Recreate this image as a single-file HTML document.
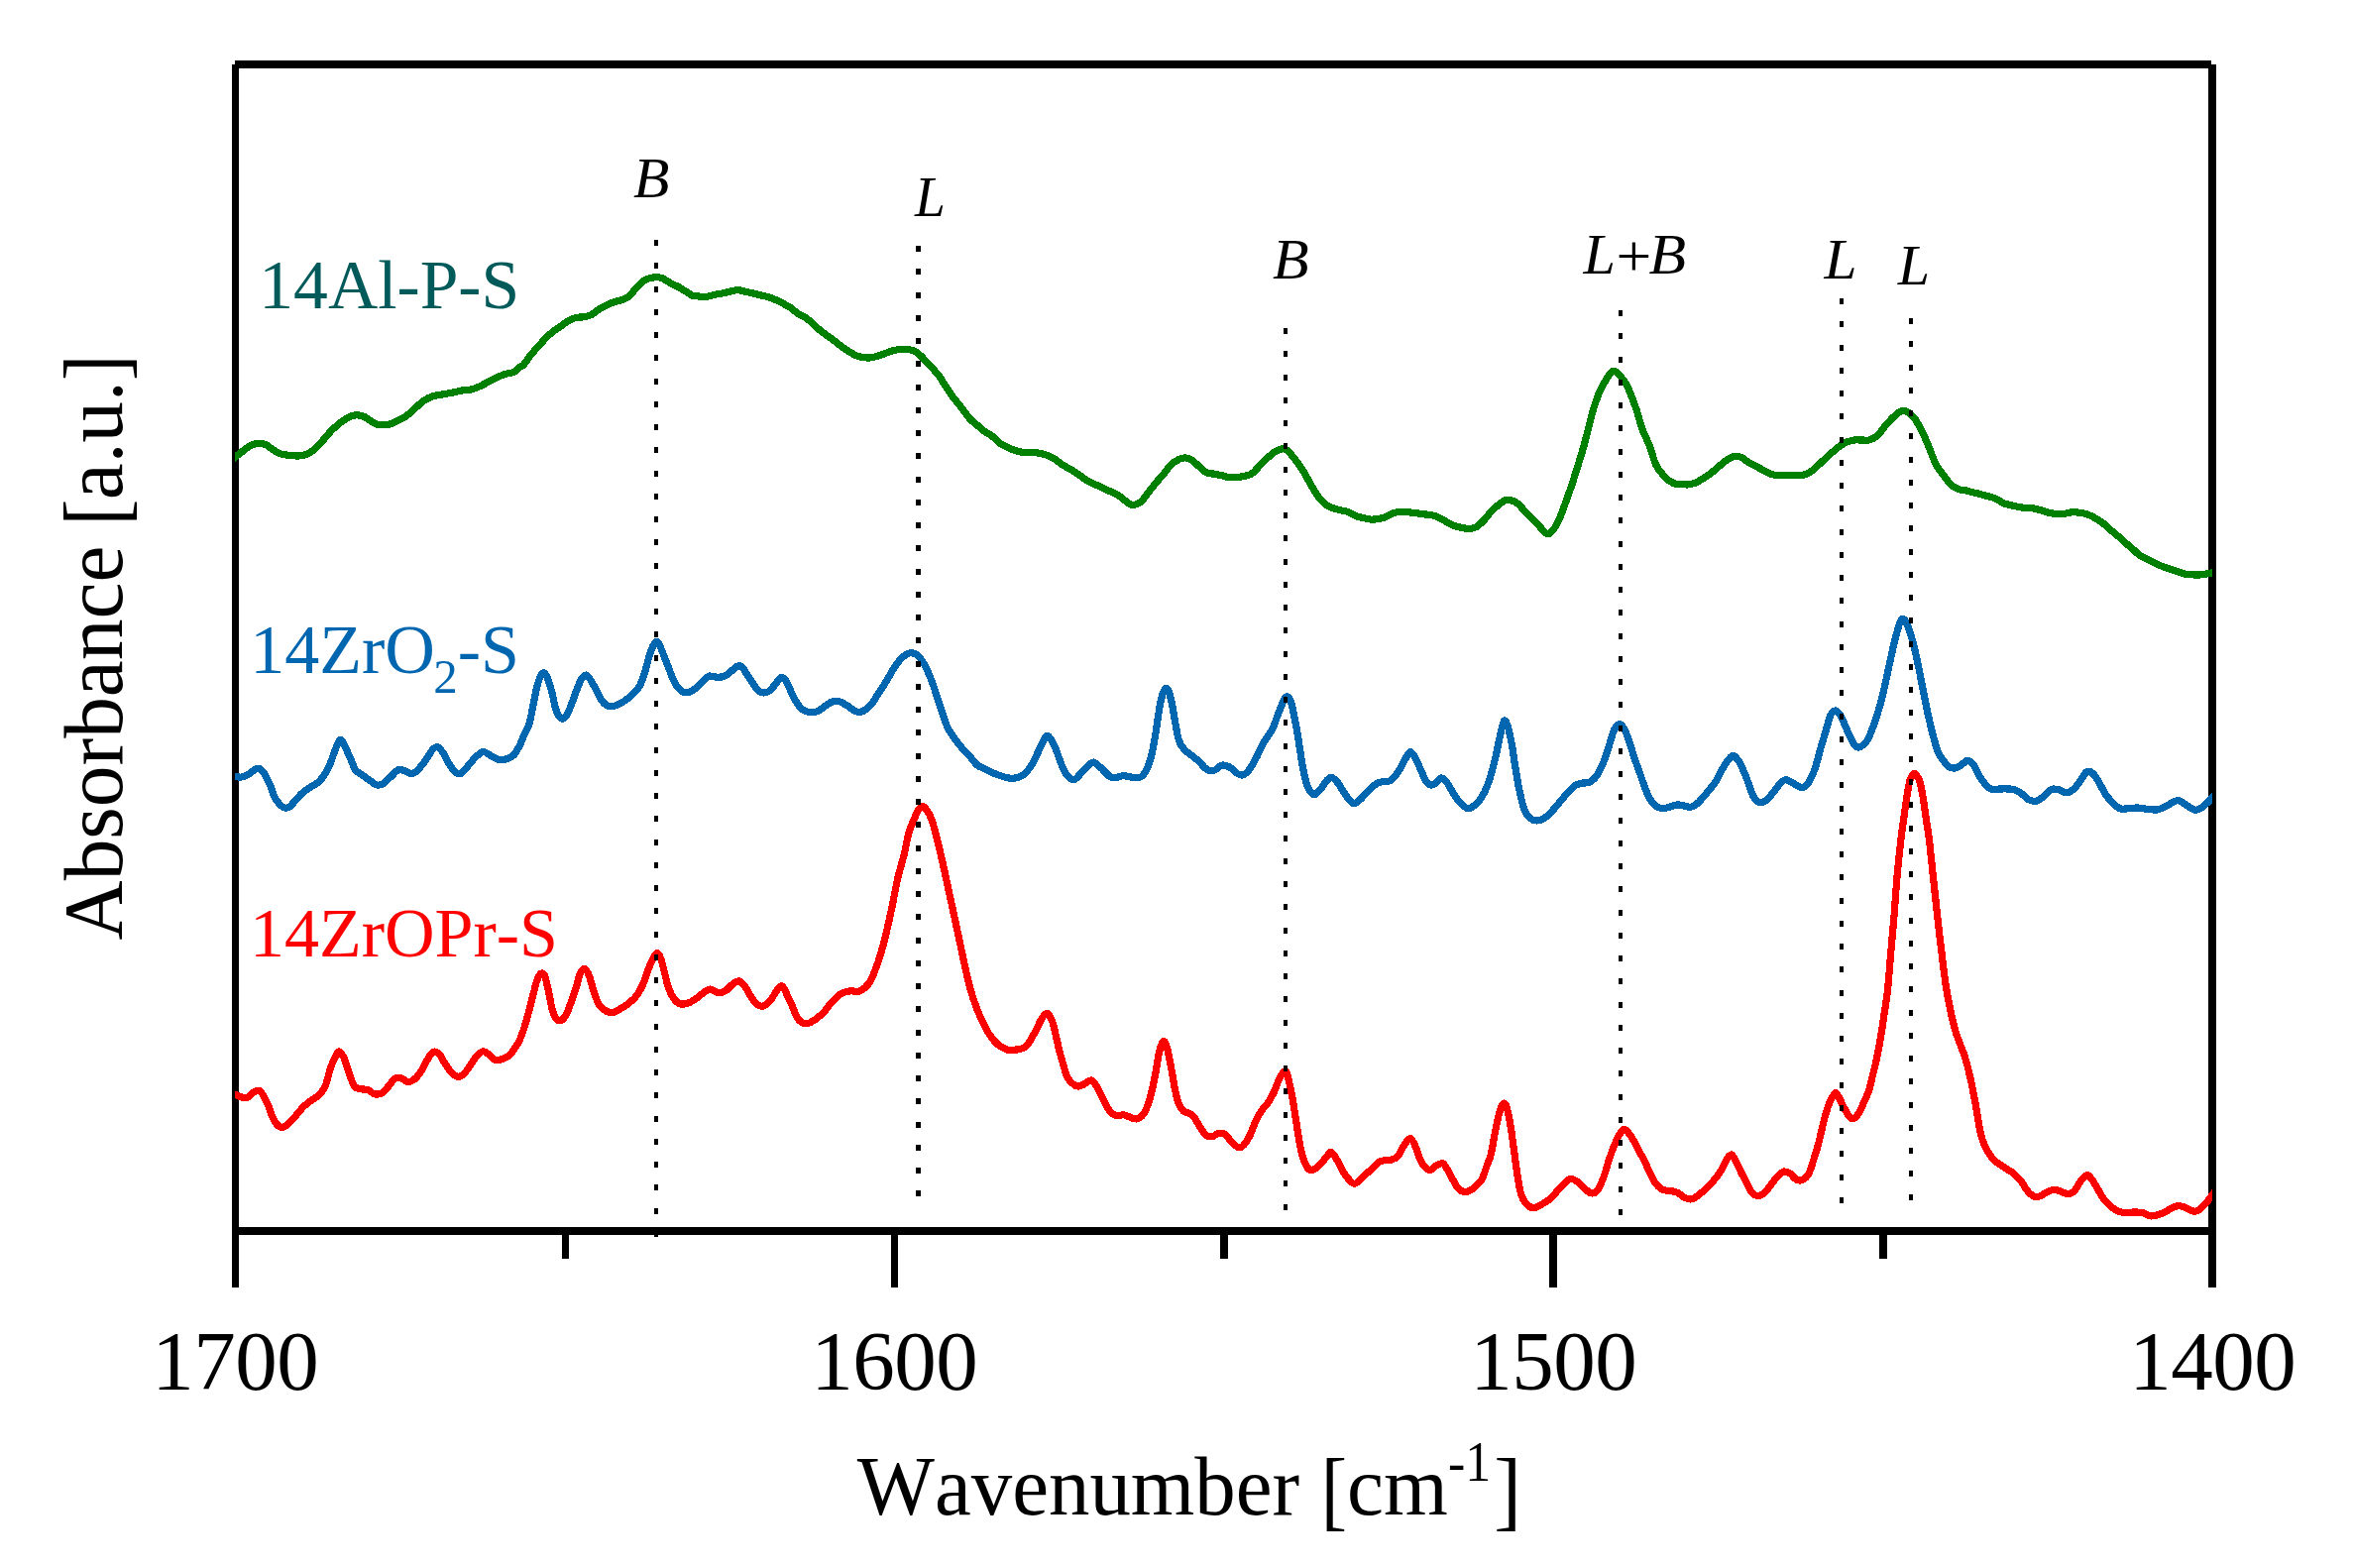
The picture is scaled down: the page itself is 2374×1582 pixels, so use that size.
<!DOCTYPE html>
<html><head><meta charset="utf-8"><title>Absorbance spectra</title>
<style>html,body{margin:0;padding:0;background:#fff;}svg{display:block;}</style>
</head><body>
<svg width="2374" height="1582" viewBox="0 0 2374 1582">
<rect width="2374" height="1582" fill="#fff"/>
<g fill="#000">
<rect x="237" y="61" width="1994" height="8"/>
<rect x="234" y="65" width="7" height="1234"/>
<rect x="2228" y="65" width="8" height="1234"/>
<rect x="234" y="1238" width="2002" height="8"/>
<rect x="567" y="1240" width="7" height="30"/>
<rect x="899" y="1240" width="7" height="59"/>
<rect x="1231" y="1240" width="8" height="30"/>
<rect x="1563" y="1240" width="8" height="59"/>
<rect x="1896" y="1240" width="8" height="30"/>
</g>
<defs><clipPath id="plotclip"><rect x="237" y="0" width="1995" height="1582"/></clipPath></defs>
<g fill="none" clip-path="url(#plotclip)" shape-rendering="crispEdges" stroke-width="7.2" stroke-linejoin="round" stroke-linecap="butt">
<path stroke="#008000" d="M231 466.2C232 465.4 235 462.9 237 461.4C239 459.8 240.8 458.5 242.8 456.9C244.8 455.3 246.9 453.4 249 452C251.1 450.6 253.3 449.2 255.5 448.4C257.7 447.6 259.9 447.3 262 447.3C264.1 447.3 265.9 447.7 268 448.6C270.1 449.6 272.4 451.6 274.6 453C276.8 454.4 278.9 456.2 281 457.2C283.1 458.2 285.3 458.4 287.4 458.8C289.5 459.2 291.5 459.3 293.8 459.5C296.1 459.7 298.9 460.2 301.4 460C303.9 459.8 306.4 459.4 309 458.4C311.6 457.3 314.1 455.8 316.7 453.7C319.3 451.6 321.8 448.8 324.4 446C326.9 443.2 329.4 439.8 332 437C334.6 434.2 337.1 431.7 339.7 429.5C342.2 427.3 345 425.3 347.3 423.8C349.6 422.2 351.6 421 353.7 420.2C355.8 419.4 357.9 418.8 360 418.8C362.1 418.8 364.4 419.2 366.5 420C368.6 420.8 370.8 422.4 372.9 423.8C375 425.1 376.9 426.9 379.2 427.8C381.5 428.7 384.3 428.9 386.9 428.9C389.4 428.9 391.9 428.4 394.5 427.6C397.1 426.8 399.8 425.2 402.2 424C404.6 422.8 406.5 422 408.6 420.6C410.7 419.2 412.9 417.3 415 415.5C417.1 413.7 419.2 411.6 421.3 409.7C423.4 407.8 425.1 405.8 427.7 404.2C430.2 402.6 433.4 400.9 436.6 399.8C439.8 398.8 443.4 398.5 446.8 397.9C450.2 397.3 453.8 396.6 457 396C460.2 395.4 462.8 394.5 466 394C469.2 393.5 473 393.6 476.2 392.8C479.4 392 482.3 390.6 485.1 389.3C487.9 388 490 386.6 492.8 385.1C495.6 383.7 498.7 381.9 501.7 380.6C504.7 379.3 507.8 378.1 510.6 377.2C513.4 376.3 516.2 376.5 518.3 375.5C520.4 374.5 521.8 372.2 523.4 371C525 369.8 525.7 370.6 527.7 368.5C529.7 366.4 532.8 361.6 535.3 358.4C537.8 355.2 540.5 352.4 543 349.5C545.5 346.6 548.1 343.8 550.6 341.2C553.1 338.6 555.8 336.2 558.3 334.2C560.8 332.2 563.3 330.8 565.9 329C568.5 327.2 571 325 573.6 323.6C576.2 322.2 578.7 321 581.2 320.4C583.8 319.8 586.4 320.3 588.9 319.8C591.4 319.3 594 318.9 596.5 317.6C599 316.3 601.7 313.7 604.2 312.1C606.8 310.5 609.2 309.2 611.8 308C614.3 306.8 617 305.7 619.5 304.8C622 303.9 624.6 303.6 627.1 302.6C629.6 301.6 632.2 300.8 634.8 298.7C637.3 296.6 639.8 292.8 642.4 290.2C645 287.6 647.5 284.5 650.1 282.8C652.7 281.1 655.7 280.7 657.8 280.2C659.9 279.7 661 279.4 662.9 279.6C664.8 279.8 666.9 280.1 669.2 281.2C671.5 282.3 674.4 284.6 676.9 286C679.4 287.4 682 288.1 684.5 289.5C687 290.9 689.9 292.9 692.2 294.3C694.6 295.7 696.3 297.3 698.6 298.1C700.9 298.9 703.7 298.9 706.2 299.1C708.8 299.3 711.4 299.4 713.9 299.1C716.4 298.8 719 297.7 721.5 297.2C724 296.7 726.7 296.4 729.2 295.9C731.8 295.4 734.2 294.5 736.8 294C739.3 293.5 742 292.6 744.5 292.7C747 292.8 749.6 293.8 752.1 294.3C754.6 294.8 757.2 295.3 759.8 295.9C762.3 296.5 764.8 297.2 767.4 297.8C770 298.4 772.5 298.9 775.1 299.7C777.7 300.5 780.2 301.5 782.8 302.6C785.3 303.7 787.9 305 790.4 306.4C792.9 307.8 795.5 309 798 310.8C800.5 312.6 803.5 315.5 805.7 317C808 318.5 809.5 318.6 811.5 319.8C813.5 321 815.4 322.4 817.7 324.3C820 326.2 822.8 329.3 825.3 331.5C827.8 333.7 830.5 335.7 833 337.6C835.5 339.5 838.1 341.1 840.6 343C843.1 344.9 845.8 347.2 848.3 349.1C850.8 351 853.3 352.6 855.9 354.2C858.5 355.8 861 357.6 863.6 358.7C866.2 359.8 868.7 360.2 871.2 360.6C873.8 361 876.4 361.1 878.9 360.8C881.4 360.5 884 359.7 886.5 358.9C889 358.1 891.7 357 894.2 356.1C896.8 355.2 899.2 354.2 901.8 353.6C904.3 353 907 352.5 909.5 352.3C912 352.1 914.6 352.1 917.1 352.6C919.6 353.1 922.2 353.9 924.8 355.5C927.3 357.1 929.8 359.9 932.4 362.5C935 365.1 937.5 367.9 940.1 370.8C942.7 373.7 945.2 376.2 947.8 379.7C950.3 383.2 952.8 388 955.4 391.8C958 395.6 960.5 399.3 963.1 402.7C965.7 406.1 968.2 408.9 970.7 412.2C973.2 415.5 975.9 419.6 978.4 422.4C980.9 425.2 983.5 426.9 986 429.1C988.5 431.3 991.2 433.6 993.7 435.5C996.2 437.4 998.8 438.3 1001.3 440.3C1003.8 442.3 1006.5 445.5 1009 447.3C1011.5 449.1 1014.1 450.2 1016.6 451.4C1019.1 452.6 1021.8 453.8 1024.3 454.6C1026.8 455.4 1029.4 456 1031.9 456.3C1034.5 456.6 1037 456.2 1039.6 456.3C1042.1 456.4 1044.7 456.7 1047.2 457.1C1049.8 457.5 1052.3 458 1054.9 458.8C1057.5 459.6 1060 460.7 1062.6 462.2C1065.1 463.7 1067.7 466 1070.2 467.7C1072.8 469.4 1075.4 470.9 1077.9 472.4C1080.5 473.9 1083 475.2 1085.5 476.9C1088 478.6 1090.7 480.7 1093.2 482.4C1095.8 484.1 1098.4 485.8 1100.8 487.1C1103.2 488.4 1105.3 488.9 1107.7 490C1110.1 491.1 1112.8 492.6 1115.3 493.8C1117.8 495 1120.5 495.7 1123 497C1125.5 498.3 1128 499.6 1130.6 501.4C1133.1 503.2 1136.2 506.2 1138.3 507.6C1140.4 509 1141.3 509.7 1143.4 509.5C1145.5 509.3 1148.5 508.4 1151 506.3C1153.5 504.2 1156.2 499.9 1158.7 496.7C1161.2 493.5 1163.8 490.2 1166.3 487.1C1168.8 484 1171.5 481.2 1174 478.2C1176.5 475.2 1179 471.3 1181.6 468.9C1184.1 466.4 1186.9 464.7 1189.3 463.5C1191.7 462.3 1193.6 461.8 1195.7 461.9C1197.8 461.9 1199.7 462.4 1202 463.8C1204.3 465.2 1207.2 468.4 1209.7 470.6C1212.2 472.8 1214.8 475.6 1217.3 476.9C1219.8 478.2 1222.4 477.7 1225 478.2C1227.6 478.7 1230.2 479.1 1232.7 479.7C1235.2 480.3 1237.8 481.4 1240.3 481.7C1242.8 482 1245.5 481.6 1248 481.4C1250.5 481.2 1253 481 1255.6 480.4C1258.1 479.8 1260.8 479.4 1263.3 477.6C1265.8 475.9 1268.4 472.4 1270.9 469.9C1273.5 467.3 1276 464.6 1278.6 462.3C1281.1 460 1283.7 457.5 1286.2 455.9C1288.8 454.3 1291.8 453 1293.9 452.8C1296 452.6 1296.9 452.8 1299 454.6C1301.1 456.4 1304 460.2 1306.6 463.5C1309.1 466.8 1311.8 470.3 1314.3 474.4C1316.8 478.4 1319.4 483.4 1321.9 487.8C1324.5 492.2 1327 497 1329.6 500.5C1332.1 504 1334.7 506.8 1337.2 508.8C1339.8 510.8 1342.3 511.7 1344.9 512.7C1347.5 513.7 1350 514.2 1352.6 514.8C1355.1 515.4 1357.7 515.5 1360.2 516.5C1362.8 517.5 1365.4 519.6 1367.9 520.6C1370.5 521.6 1373 521.9 1375.5 522.5C1378 523.1 1380.7 523.9 1383.2 524.1C1385.8 524.3 1388.4 523.9 1390.8 523.5C1393.2 523.1 1395.3 522.7 1397.7 521.8C1400.1 520.9 1402.8 518.8 1405.3 517.9C1407.8 517 1410.5 516.5 1413 516.3C1415.5 516.1 1418 516.6 1420.6 516.8C1423.1 517 1425.8 517.3 1428.3 517.6C1430.8 517.9 1433.4 518.5 1435.9 518.8C1438.5 519.1 1441 519 1443.6 519.5C1446.1 520 1448.7 520.9 1451.2 522C1453.8 523.1 1456.4 524.8 1458.9 526.2C1461.5 527.6 1464 529.3 1466.5 530.3C1469 531.3 1471.7 531.7 1474.2 532.2C1476.8 532.7 1479.2 533.6 1481.8 533.5C1484.3 533.4 1487 533 1489.5 531.6C1492 530.2 1494.5 527.6 1497.1 525C1499.6 522.4 1502.2 518.4 1504.8 515.7C1507.3 513 1509.9 510.9 1512.4 509C1514.9 507.1 1517 504.8 1520 504.5C1523 504.2 1526.8 505.1 1530.2 507.3C1533.6 509.6 1537 514.5 1540.4 518C1543.8 521.5 1547.3 524.6 1550.6 528C1553.9 531.4 1557.6 537 1560.3 538.2C1563 539.4 1564.3 537.7 1566.5 535.3C1568.7 532.9 1570.9 528.6 1573.2 523.6C1575.5 518.6 1577.9 511.6 1580.1 505.5C1582.3 499.4 1584.5 493.4 1586.5 487.3C1588.5 481.2 1590.3 475.2 1592.2 469.1C1594.1 463 1596 457 1597.7 450.9C1599.4 444.8 1600.9 438.8 1602.5 432.7C1604.1 426.6 1605.3 420.6 1607.1 414.5C1608.9 408.4 1611.3 401.4 1613.4 396.4C1615.5 391.3 1617.3 387.9 1619.8 384.2C1622.3 380.5 1625.2 374.2 1628.3 374.2C1631.4 374.2 1635.9 380.5 1638.6 384.2C1641.3 387.9 1642.6 391.3 1644.7 396.4C1646.8 401.4 1649.4 408.4 1651.4 414.5C1653.4 420.6 1654.6 426.6 1656.8 432.7C1659 438.8 1662.4 444.8 1664.7 450.9C1667 457 1668.3 464.1 1670.8 469.1C1673.3 474.2 1676.9 478.1 1679.8 481.2C1682.7 484.3 1685.7 486.3 1688.3 487.5C1690.9 488.7 1692.8 488.2 1695.3 488.4C1697.8 488.6 1700.5 489.1 1703 488.9C1705.5 488.7 1708 488.1 1710.6 487.1C1713.1 486.1 1715.8 484.3 1718.3 482.7C1720.8 481.1 1723.4 479.5 1725.9 477.6C1728.5 475.7 1731 473.3 1733.6 471.2C1736.1 469.1 1738.7 466.6 1741.2 464.8C1743.8 463 1746.4 461.2 1748.9 460.6C1751.5 460 1754 460.3 1756.5 461.3C1759 462.3 1761.7 465.1 1764.2 466.7C1766.8 468.2 1769.2 469.3 1771.8 470.6C1774.3 471.9 1777 473.3 1779.5 474.6C1782 475.9 1784.5 477.7 1787.1 478.5C1789.6 479.3 1792.2 479.3 1794.8 479.5C1797.3 479.7 1799.9 479.5 1802.4 479.5C1805 479.5 1807.5 479.5 1810.1 479.5C1812.7 479.5 1815.2 479.9 1817.8 479.5C1820.3 479.1 1822.9 478.4 1825.4 476.9C1828 475.4 1830.5 472.8 1833.1 470.6C1835.6 468.4 1838.2 465.9 1840.7 463.5C1843.2 461.1 1845.9 458.7 1848.4 456.5C1851 454.3 1853.5 452 1856 450.2C1858.5 448.4 1861.2 446.9 1863.7 445.9C1866.2 444.9 1868.8 444.3 1871.3 444C1873.8 443.7 1876.5 444 1879 444C1881.5 444 1884 444.6 1886.6 443.8C1889.1 443 1891.8 441.6 1894.3 439.3C1896.8 437 1899.4 433 1901.9 430C1904.5 427 1907 424 1909.6 421.5C1912.1 419 1915.1 416.3 1917.2 415.2C1919.3 414.1 1920.2 413.9 1922.3 414.7C1924.4 415.5 1927.4 417.3 1930 420.2C1932.6 423.1 1935.2 427.5 1937.7 432.3C1940.2 437.1 1942.8 442.9 1945.3 448.9C1947.8 454.8 1950.5 463 1953 468C1955.5 473 1958 475.5 1960.6 479C1963.1 482.5 1965.8 486.6 1968.3 489C1970.8 491.4 1973.1 492.5 1975.6 493.5C1978 494.5 1980.5 494.2 1983 494.8C1985.5 495.4 1988 496.2 1990.6 496.8C1993.1 497.4 1995.8 498 1998.3 498.7C2000.8 499.4 2003.4 500.1 2005.9 500.8C2008.5 501.5 2011 502 2013.6 503.1C2016.1 504.2 2018.7 506.5 2021.2 507.6C2023.8 508.7 2026.4 509.2 2028.9 509.8C2031.5 510.4 2034 510.9 2036.5 511.4C2039 511.9 2041.7 512.4 2044.2 512.7C2046.8 513 2049.2 512.6 2051.8 513C2054.4 513.4 2056.9 514.2 2059.5 514.9C2062.1 515.6 2064.5 516.8 2067.1 517.4C2069.7 518 2072.2 518.2 2074.8 518.4C2077.4 518.6 2079.9 518.7 2082.4 518.4C2084.9 518.1 2087.5 517 2090.1 516.8C2092.7 516.6 2095.2 516.9 2097.8 517.2C2100.4 517.5 2102.9 517.9 2105.4 518.7C2107.9 519.6 2110.6 520.9 2113.1 522.3C2115.6 523.7 2118.1 525.1 2120.7 527C2123.2 528.9 2125.8 531.6 2128.4 533.8C2131 536 2133.4 537.9 2136 540.1C2138.6 542.3 2141.1 544.9 2143.7 547.1C2146.2 549.3 2148.8 551.3 2151.3 553.5C2153.9 555.7 2156.4 558.7 2159 560.5C2161.6 562.3 2164 563.1 2166.6 564.4C2169.2 565.7 2171.8 567 2174.3 568.2C2176.9 569.4 2179.4 570.6 2181.9 571.6C2184.4 572.6 2187.1 573.4 2189.6 574.2C2192.1 575.1 2194.6 575.9 2197.2 576.7C2199.8 577.6 2202.3 578.8 2204.9 579.3C2207.5 579.8 2210.1 579.8 2212.6 579.9C2215.1 580 2217.6 580.1 2220.2 579.9C2222.8 579.7 2226 579.1 2227.9 578.7C2229.8 578.4 2230.2 578.2 2231.7 577.8C2233.2 577.4 2236.1 576.7 2237 576.5"/>
<path stroke="#0066b0" d="M231 782.3C232 782.4 235 782.8 237 783.1C239 783.4 240.8 784.2 242.8 784.1C244.8 784 247 783.2 249.1 782.2C251.2 781.2 253.6 779 255.5 777.8C257.4 776.6 258.9 775 260.6 775.2C262.3 775.4 264.2 777.2 265.7 779C267.2 780.8 268.2 783.5 269.5 786C270.8 788.5 272.1 791.2 273.4 794.3C274.7 797.4 275.7 801.6 277.2 804.5C278.7 807.4 280.6 809.9 282.3 811.6C284 813.4 285.7 814.6 287.4 815C289.1 815.4 290.6 815.1 292.5 813.7C294.4 812.3 296.6 809 298.9 806.5C301.2 804 303.9 800.9 306.5 798.8C309.1 796.7 311.6 795.4 314.2 793.7C316.8 792 319.5 790.8 321.8 788.6C324.1 786.4 326.3 783.4 328.2 780.3C330.1 777.2 331.6 774.1 333.3 770.1C335 766.1 336.7 760 338.4 756C340.1 752 341.8 746.5 343.5 746.3C345.2 746 346.9 751.3 348.6 754.5C350.3 757.7 352 761.8 353.7 765.6C355.4 769.4 356.9 774.4 358.8 777.1C360.7 779.8 362.9 779.9 365.2 781.6C367.5 783.3 370.3 785.6 372.9 787.3C375.4 789 378.2 791.5 380.5 792C382.8 792.5 384.6 791.9 386.9 790.5C389.2 789.1 391.9 785.8 394.5 783.5C397.1 781.2 399.8 777.4 402.2 776.5C404.6 775.6 406.5 777.3 408.6 778C410.7 778.7 412.9 780.8 415 780.6C417.1 780.5 419 779.3 421.3 777.1C423.6 774.9 426.4 771.1 429 767.6C431.6 764.1 434.5 758.4 436.6 756.1C438.7 753.8 440 753.3 441.7 753.8C443.4 754.3 444.9 756.5 446.8 759.3C448.7 762.1 451.1 767.4 453.2 770.7C455.3 774 457.7 777.4 459.6 779C461.5 780.6 462.6 781.6 464.7 780.6C466.8 779.6 469.8 775.5 472.3 772.7C474.9 769.9 477.4 766.1 480 763.7C482.6 761.4 485.1 758.8 487.7 758.6C490.2 758.4 492.8 761.1 495.3 762.4C497.9 763.7 500.4 765.9 503 766.5C505.6 767.1 508.1 766.7 510.6 765.9C513.1 765.1 516 764.2 518.3 761.8C520.6 759.4 522.8 755.1 524.6 751.6C526.4 748.1 527.5 744.3 529.1 740.8C530.7 737.2 532.5 735.1 534 730.3C535.5 725.5 536.6 718 537.9 711.8C539.2 705.6 540.4 698.3 541.7 693.3C543 688.3 544.2 684.3 545.5 681.9C546.8 679.5 548 678.2 549.3 678.9C550.6 679.6 551.9 682.9 553.2 686.3C554.5 689.7 555.7 694.2 557 699.1C558.3 704 559.3 711.5 560.8 715.7C562.3 720 564.2 723.4 565.9 724.6C567.6 725.8 569.3 724.8 571 722.7C572.7 720.6 574.4 715.9 576.1 711.8C577.8 707.6 579.5 702.1 581.2 697.8C582.9 693.4 584.6 688.5 586.3 685.7C588 682.9 589.7 680.9 591.4 681.1C593.1 681.3 594.8 684.4 596.5 687C598.2 689.6 599.9 693.3 601.6 696.5C603.3 699.7 605 703.6 606.7 706.1C608.4 708.6 610.1 710.4 611.8 711.5C613.5 712.6 615.2 712.7 616.9 712.7C618.6 712.7 619.9 712.4 622 711.5C624.1 710.6 627.2 709 629.7 707.4C632.2 705.8 634.8 704 637.3 701.6C639.8 699.2 642.9 696.3 645 692.7C647.1 689.1 648.4 685.2 650.1 680C651.8 674.8 653.7 666.2 655.2 661.5C656.7 656.8 657.7 653.9 659 651.5C660.3 649.1 661.6 647 662.9 647.4C664.2 647.8 665.4 651.1 666.7 653.8C668 656.5 669.2 660.2 670.5 663.4C671.8 666.6 673 669.6 674.3 672.9C675.6 676.2 676.7 679.8 678.2 683.1C679.7 686.4 681.4 690.2 683.3 692.7C685.2 695.2 687.5 697.5 689.6 698.4C691.7 699.3 693.9 698.8 696 698.1C698.1 697.4 700.3 695.8 702.4 694C704.5 692.2 706.7 689.6 708.8 687.6C710.9 685.6 712.9 683 715.2 682.2C717.5 681.5 720.2 683.1 722.8 683.1C725.3 683.1 728.2 683.4 730.5 682.5C732.8 681.6 734.7 679.6 736.8 678C738.9 676.4 741.3 673.5 743.2 672.6C745.1 671.7 746.6 671.4 748.3 672.6C750 673.8 751.7 677.5 753.4 680C755.1 682.5 756.8 685.1 758.5 687.6C760.2 690.1 761.9 693.4 763.6 695.3C765.3 697.1 766.8 698.3 768.7 698.7C770.6 699.1 773 699 775.1 697.8C777.2 696.6 779.4 693.7 781.5 691.4C783.6 689.1 786 684.5 787.9 683.8C789.8 683.1 791.3 684.7 793 687C794.7 689.3 796.4 694.3 798.1 697.8C799.8 701.3 801.3 705 803.2 708C805.1 711 807.1 713.9 809.5 715.7C811.9 717.5 815.1 718.4 817.7 718.7C820.3 719 822.8 718.5 825.3 717.4C827.8 716.3 830.5 713.7 833 712.1C835.5 710.5 838.1 708.2 840.6 707.6C843.1 707 845.8 707.4 848.3 708.2C850.8 709.1 853.3 711.1 855.9 712.7C858.5 714.3 861 717 863.6 717.8C866.2 718.5 868.7 718.4 871.2 717.2C873.8 716 876.4 713.8 878.9 710.8C881.4 707.8 884 703.2 886.5 699.3C889 695.4 891.7 691.4 894.2 687.2C896.8 683.1 899.2 678.2 901.8 674.4C904.3 670.6 907 666.8 909.5 664.2C912 661.7 914.6 659.7 917.1 659.1C919.6 658.5 922.2 658.6 924.8 660.4C927.3 662.2 929.8 665.5 932.4 670C935 674.5 937.5 680.5 940.1 687.2C942.7 693.9 945.2 702.7 947.8 710.2C950.3 717.8 952.8 726.7 955.4 732.5C958 738.3 960.5 741.5 963.1 745.2C965.7 748.9 968.2 751.8 970.7 754.8C973.2 757.8 975.9 760.2 978.4 763.1C980.9 766 983.5 769.9 986 772C988.5 774.1 991.2 774.5 993.7 775.8C996.2 777.1 998.8 778.6 1001.3 779.7C1003.8 780.8 1006.5 781.6 1009 782.5C1011.5 783.4 1014.1 784.4 1016.6 784.8C1019.1 785.2 1021.8 785.4 1024.3 785C1026.8 784.6 1029.4 784.1 1031.9 782.2C1034.5 780.4 1037.5 776.9 1039.6 773.9C1041.7 770.9 1043 767.8 1044.7 764.4C1046.4 761 1048.1 757 1049.8 753.5C1051.5 750 1053.6 745.3 1054.9 743.5C1056.2 741.7 1056.7 742.2 1057.5 742.5C1058.3 742.8 1058.7 743.4 1060 745.5C1061.3 747.6 1063.4 751.4 1065.1 755.4C1066.8 759.4 1068.5 765.4 1070.2 769.5C1071.9 773.6 1073.2 777.4 1075.3 780.3C1077.4 783.2 1080.5 786.7 1083 786.7C1085.5 786.7 1088 782.8 1090.6 780.3C1093.1 777.8 1096.2 773.9 1098.3 772C1100.4 770.1 1101.4 768.7 1103.4 769.1C1105.4 769.5 1108.2 772.5 1110.2 774.2C1112.2 775.9 1113.6 777.7 1115.3 779.3C1117 780.9 1118.7 783.1 1120.4 784C1122.1 784.9 1123.4 784.8 1125.5 784.6C1127.6 784.4 1130.7 782.8 1133.2 782.7C1135.8 782.6 1138.2 783.7 1140.8 784C1143.3 784.3 1146.4 785 1148.5 784.6C1150.6 784.2 1151.9 783.9 1153.6 781.8C1155.3 779.7 1157.2 776 1158.7 772.2C1160.2 768.4 1161.2 764.6 1162.5 758.9C1163.8 753.2 1165 745.6 1166.3 737.8C1167.6 730 1168.9 719 1170.2 712.3C1171.5 705.6 1172.7 700.4 1174 697.5C1175.3 694.6 1176.5 693.6 1177.8 695C1179.1 696.4 1180.3 700.6 1181.6 706C1182.9 711.4 1184.2 720.8 1185.5 727.6C1186.8 734.4 1187.8 742 1189.3 746.7C1190.8 751.4 1192.3 753.2 1194.4 755.7C1196.5 758.2 1199.5 759.9 1202 762C1204.5 764.1 1207.2 766 1209.7 768.4C1212.2 770.8 1214.8 774.6 1217.3 776.1C1219.8 777.6 1222.4 777.9 1225 777.3C1227.6 776.6 1230.2 772.8 1232.7 772.2C1235.2 771.6 1237.8 772.5 1240.3 773.8C1242.8 775.1 1245.9 778.8 1248 780.2C1250.1 781.6 1251.4 782.2 1253.1 782.1C1254.8 782 1256.5 780.9 1258.2 779.3C1259.9 777.6 1261.6 775 1263.3 772.2C1265 769.4 1266.7 766.1 1268.4 762.7C1270.1 759.3 1271.8 755 1273.5 751.8C1275.2 748.6 1276.9 746.1 1278.6 743.5C1280.3 740.9 1282 739.4 1283.7 735.9C1285.4 732.4 1287.1 726.9 1288.8 722.5C1290.5 718.1 1292.6 712.5 1293.9 709.4C1295.2 706.3 1296 704.9 1296.8 703.8C1297.6 702.7 1298.2 702.7 1299 703C1299.8 703.3 1300.7 703.6 1301.5 705.5C1302.3 707.4 1302.8 708.6 1304.1 714.5C1305.4 720.4 1307.5 731.2 1309.2 741C1310.9 750.8 1312.6 764.7 1314.3 773.5C1316 782.3 1317.5 789.2 1319.4 793.9C1321.3 798.6 1323.7 801.2 1325.8 801.6C1327.9 802 1330 798.8 1332.1 796.5C1334.2 794.2 1336.6 789.6 1338.5 787.6C1340.4 785.6 1341.7 784 1343.6 784.4C1345.5 784.8 1347.9 787.5 1350 790.1C1352.1 792.8 1354.3 797.2 1356.4 800.3C1358.5 803.4 1361.1 806.9 1362.8 808.6C1364.5 810.3 1364.9 810.9 1366.6 810.5C1368.3 810.1 1370.7 808.1 1373 806C1375.3 803.9 1378 800.3 1380.6 797.8C1383.1 795.3 1385.8 792.6 1388.3 791C1390.8 789.4 1393.5 789 1395.9 788.4C1398.3 787.8 1400.8 788.6 1402.8 787.6C1404.8 786.6 1406.2 784.5 1407.9 782.4C1409.6 780.3 1411.3 777.7 1413 774.8C1414.7 771.9 1416.4 767.9 1418.1 765.2C1419.8 762.5 1421.5 758.7 1423.2 758.7C1424.9 758.7 1426.6 762.2 1428.3 765.2C1430 768.2 1431.7 773 1433.4 776.7C1435.1 780.4 1436.8 785.1 1438.5 787.6C1440.2 790.1 1441.9 791.6 1443.6 792C1445.3 792.4 1447 791.3 1448.7 790.1C1450.4 788.9 1452.1 785.3 1453.8 785C1455.5 784.7 1457.2 786.3 1458.9 788.2C1460.6 790.1 1462.3 793.7 1464 796.5C1465.7 799.3 1467.4 802.5 1469.1 804.8C1470.8 807.1 1472.3 808.7 1474.2 810.5C1476.1 812.3 1478.5 815.2 1480.6 815.6C1482.7 816 1484.8 814.6 1486.9 813.1C1489 811.6 1491.4 809.2 1493.3 806.7C1495.2 804.2 1496.7 801.5 1498.4 797.8C1500.1 794.1 1501.8 789.8 1503.5 784.4C1505.2 779 1506.9 772.4 1508.6 765.2C1510.3 758.1 1512.2 747.8 1513.7 741.5C1515.2 735.2 1516.3 728.5 1517.6 727.2C1518.9 725.9 1520.1 729.6 1521.4 733.5C1522.7 737.4 1523.9 743.7 1525.2 750.6C1526.5 757.5 1527.7 767 1529 774.8C1530.3 782.5 1531.4 790.1 1532.9 797.1C1534.4 804.1 1536.1 812.1 1538 816.9C1539.9 821.7 1542.2 823.9 1544.3 825.8C1546.4 827.6 1548.3 828.1 1550.7 828C1553.1 827.9 1555.9 826.8 1558.4 825.2C1561 823.6 1563.5 820.9 1566 818.2C1568.5 815.5 1571.2 812.2 1573.7 809.2C1576.2 806.2 1578.8 803 1581.3 800.3C1583.8 797.5 1586.5 794.4 1589 792.7C1591.5 791 1594 790.7 1596.6 790.1C1599.1 789.5 1601.8 790.6 1604.3 789.1C1606.8 787.6 1609.6 784.8 1611.9 781.2C1614.2 777.7 1616.4 772.6 1618.3 767.8C1620.2 763 1621.7 757.7 1623.4 752.5C1625.1 747.3 1626.8 740.1 1628.5 736.5C1630.2 732.9 1631.9 731 1633.6 730.8C1635.3 730.6 1637 732.4 1638.7 735.3C1640.4 738.2 1642.1 743.1 1643.8 748C1645.5 752.9 1647.2 759.5 1648.9 764.6C1650.6 769.7 1652.3 773.8 1654 778.6C1655.7 783.4 1657.4 788.8 1659.1 793.3C1660.8 797.8 1662.3 802.1 1664.2 805.4C1666.1 808.7 1668.2 811.4 1670.6 813.1C1672.9 814.8 1675.8 815.5 1678.3 815.6C1680.8 815.7 1683.5 814.3 1685.9 813.7C1688.3 813.1 1690.6 812 1692.8 811.9C1695 811.8 1697 812.6 1699.1 813C1701.2 813.4 1703.4 814.6 1705.5 814.3C1707.6 814 1709.8 812.8 1711.9 811.1C1714 809.5 1716.2 806.8 1718.3 804.4C1720.4 802 1722.5 799.4 1724.6 796.8C1726.7 794.2 1728.9 792.1 1731 788.8C1733.1 785.4 1735.3 780.4 1737.4 776.7C1739.5 773 1741.9 768.9 1743.8 766.5C1745.7 764.1 1747.3 762.4 1748.9 762.4C1750.5 762.4 1752 765.2 1753.3 766.8C1754.6 768.4 1754.9 768.5 1756.5 771.9C1758.1 775.3 1760.8 781.8 1762.9 787.2C1765 792.6 1767.2 800.3 1769.3 804.1C1771.4 807.9 1773.6 809.3 1775.7 809.8C1777.8 810.3 1779.9 808.9 1782 807.3C1784.1 805.7 1786.3 802.8 1788.4 800.3C1790.5 797.8 1792.7 794.3 1794.8 792C1796.9 789.7 1799.1 787.1 1801.2 786.7C1803.3 786.3 1805.5 788.4 1807.6 789.4C1809.7 790.4 1812.1 792 1813.9 792.9C1815.7 793.8 1816.8 795.1 1818.4 794.8C1820 794.5 1821.9 793.2 1823.5 791.3C1825.1 789.4 1826.6 786.5 1828 783.5C1829.4 780.5 1830.3 778.2 1831.8 773.5C1833.3 768.8 1835.2 761 1836.9 755C1838.6 749 1840.3 743.4 1842 737.8C1843.7 732.2 1845.4 724.7 1847.1 721.2C1848.8 717.7 1850.5 716.8 1852.2 717C1853.9 717.2 1855.6 719.6 1857.3 722.4C1859 725.2 1860.7 730.1 1862.4 733.9C1864.1 737.7 1865.8 742.2 1867.5 745.4C1869.2 748.6 1870.9 751.8 1872.6 753.1C1874.3 754.4 1875.8 754.2 1877.7 753.1C1879.6 752 1882 750.3 1884.1 746.7C1886.2 743.1 1888.4 737.2 1890.5 731.4C1892.6 725.5 1894.9 718.4 1896.8 711.6C1898.7 704.8 1900.2 698 1901.9 690.6C1903.6 683.2 1905.3 674.7 1907 667C1908.7 659.3 1910.4 651.2 1912.1 644.6C1913.8 638 1915.7 630.7 1917.2 627.4C1918.7 624.1 1919.8 624.1 1921.1 624.9C1922.4 625.6 1923.4 628.1 1924.9 631.9C1926.4 635.7 1928.3 641.4 1930 647.8C1931.7 654.2 1933.4 662.2 1935.1 670.2C1936.8 678.2 1938.5 687.2 1940.2 695.7C1941.9 704.2 1943.6 713.5 1945.3 721.2C1947 729 1948.7 735.8 1950.4 742.2C1952.1 748.6 1953.8 755.3 1955.5 759.4C1957.2 763.5 1958.8 764.6 1960.6 767C1962.3 769.4 1964.1 772.2 1966 773.5C1967.9 774.8 1969.9 775.2 1972 775C1974.1 774.8 1976.2 773.3 1978.5 772C1980.8 770.7 1983.3 767.1 1985.5 767.2C1987.7 767.4 1990 770.2 1991.9 772.9C1993.8 775.5 1995.3 780.2 1997 783.1C1998.7 786 2000.2 788 2002.1 790.1C2004 792.2 2006.1 794.9 2008.4 795.9C2010.7 796.9 2013.5 796.1 2016.1 796.1C2018.6 796.1 2021.2 795.8 2023.7 795.9C2026.2 796 2028.9 795.8 2031.4 796.5C2034 797.2 2036.5 798.6 2039 800.3C2041.5 802 2044.1 805.4 2046.7 806.7C2049.3 808 2051.8 808.7 2054.4 808.2C2057 807.7 2059.4 805.5 2062 803.5C2064.6 801.5 2067.1 797.6 2069.7 796.5C2072.2 795.4 2074.8 796.3 2077.3 796.8C2079.9 797.3 2082.4 799.9 2085 799.7C2087.6 799.6 2090.3 797.9 2092.6 795.9C2094.9 793.9 2096.9 790.5 2099 787.6C2101.1 784.7 2103.3 779.9 2105.4 778.7C2107.5 777.5 2109.6 778.7 2111.7 780.6C2113.8 782.5 2116 786.6 2118.1 790.1C2120.2 793.6 2122.4 798.4 2124.5 801.6C2126.6 804.8 2128.6 806.9 2130.9 809.2C2133.2 811.5 2135.9 814.5 2138.5 815.6C2141.1 816.7 2143.2 816 2146.2 815.9C2149.2 815.8 2152.9 814.9 2156.3 815C2159.7 815.1 2163.1 816 2166.5 816.3C2169.9 816.6 2173.4 817.5 2176.8 816.9C2180.2 816.2 2183.6 813.9 2187 812.4C2190.4 810.9 2194 807.6 2197.2 807.6C2200.4 807.6 2203.1 810.8 2206.1 812.4C2209.1 814 2212.2 817 2215 817.2C2217.8 817.4 2219.9 815.7 2222.7 813.7C2225.5 811.7 2229.2 807.7 2231.6 805.4C2234 803.1 2236.1 800.9 2237 800"/>
<path stroke="#ff0000" d="M231 1101.8C232 1102.2 235 1103.4 237 1104.2C239 1105 240.8 1106.1 242.8 1106.7C244.8 1107.3 247 1108.3 249.1 1107.6C251.2 1106.8 253.4 1103.4 255.5 1102.2C257.6 1101 260 1099.3 261.9 1100.3C263.8 1101.3 265.5 1105.5 267 1108C268.5 1110.5 269.5 1112.5 270.8 1115.6C272.1 1118.7 273.1 1123.3 274.6 1126.5C276.1 1129.7 278 1133 279.7 1134.8C281.4 1136.6 282.9 1137.5 284.8 1137.3C286.7 1137.1 288.9 1135.5 291.2 1133.5C293.5 1131.5 296.3 1128.1 298.9 1125.2C301.4 1122.3 303.9 1118.8 306.5 1116.3C309.1 1113.8 311.6 1112 314.2 1110.1C316.8 1108.2 319.5 1107.2 321.8 1104.8C324.1 1102.4 326.3 1100.4 328.2 1095.9C330.1 1091.4 331.6 1083 333.3 1078C335 1073 336.9 1068.8 338.4 1066C339.9 1063.2 340.7 1060.7 342.2 1061C343.7 1061.3 345.6 1064.3 347.3 1068C349 1071.7 350.7 1078.4 352.4 1083.1C354.1 1087.8 355.6 1093.3 357.5 1095.9C359.4 1098.5 361.6 1098.1 363.9 1098.7C366.2 1099.3 369.2 1098.9 371.5 1099.7C373.8 1100.5 375.5 1103.3 377.9 1103.8C380.2 1104.3 383.2 1104.2 385.6 1102.9C388 1101.6 389.9 1098.3 392 1095.9C394.1 1093.5 396.2 1089.9 398.3 1088.5C400.4 1087.1 402.6 1087.1 404.7 1087.6C406.8 1088.1 409 1091.1 411.1 1091.4C413.2 1091.7 415.3 1091 417.4 1089.5C419.5 1088 421.7 1085.6 423.8 1082.5C425.9 1079.4 428.1 1074.5 430.2 1071C432.3 1067.5 434.5 1063 436.6 1061.7C438.7 1060.4 440.8 1061.4 442.9 1063.4C445 1065.4 447.2 1070.4 449.3 1073.6C451.4 1076.8 453.6 1080.4 455.7 1082.5C457.8 1084.6 460 1086.2 462.1 1086.3C464.2 1086.4 466.3 1085.1 468.4 1083.1C470.5 1081.1 472.7 1077.2 474.8 1074.2C476.9 1071.2 479.1 1067.5 481.2 1065.3C483.3 1063.1 485.5 1060.9 487.6 1060.8C489.7 1060.7 491.9 1063.1 494 1064.6C496.1 1066.1 498.2 1069 500.3 1069.7C502.4 1070.4 504.6 1069.2 506.7 1068.5C508.8 1067.8 511 1067.1 513.1 1065.3C515.2 1063.5 517.5 1060.4 519.4 1057.6C521.3 1054.8 522.9 1052.2 524.5 1048.7C526.1 1045.2 527.4 1041.5 529 1036.6C530.6 1031.6 532.5 1024.5 534 1019C535.5 1013.5 536.6 1008.7 537.9 1003.8C539.2 998.9 540.4 993 541.7 989.5C543 986 544.2 983.4 545.5 982.5C546.8 981.6 548 981.2 549.3 984C550.6 986.8 551.9 993.4 553.2 999C554.5 1004.6 555.7 1013.1 557 1017.8C558.3 1022.5 559.3 1025.3 560.8 1027.3C562.3 1029.2 564.2 1030 565.9 1029.5C567.6 1029 569.3 1027.1 571 1024.1C572.7 1021.1 574.4 1016 576.1 1011.4C577.8 1006.8 579.7 1001.4 581.2 996.7C582.7 992 583.6 986.2 585 983C586.4 979.8 588 977.4 589.5 977.5C591 977.6 592.4 979.8 594 983.5C595.6 987.2 597.3 994.9 599 999.9C600.7 1004.9 602.1 1009.9 604.2 1013.3C606.3 1016.7 609.2 1019 611.8 1020.3C614.3 1021.6 617 1021.7 619.5 1021.2C622 1020.7 624.6 1018.6 627.1 1017.1C629.6 1015.6 632.2 1014.1 634.8 1012C637.3 1009.9 640.1 1007.6 642.4 1004.4C644.7 1001.2 646.9 997.2 648.8 992.9C650.7 988.5 652.2 982.6 653.9 978.3C655.6 973.9 657.5 969.6 659 966.8C660.5 964 661.5 961.7 662.8 961.7C664.1 961.7 665.3 963.5 666.6 966.8C667.9 970.1 669.2 976.5 670.5 981.4C671.8 986.3 672.8 991.9 674.3 996.1C675.8 1000.4 677.5 1004.1 679.4 1006.9C681.3 1009.7 683.5 1011.8 685.8 1012.7C688.1 1013.6 690.8 1013 693.4 1012.3C696 1011.6 698.5 1010.1 701.1 1008.5C703.7 1006.9 706.2 1004.2 708.7 1002.5C711.2 1000.8 713.9 998.2 716.4 998C718.9 997.8 721.5 1001.2 724 1001.5C726.5 1001.8 729.2 1001.3 731.7 999.9C734.2 998.5 737 994.5 739.3 992.9C741.6 991.2 743.6 989.5 745.7 990C747.8 990.5 750 993.3 752.1 996.1C754.2 998.9 756.3 1003.9 758.4 1006.9C760.5 1009.9 762.7 1012.7 764.8 1014C766.9 1015.3 769.1 1015.5 771.2 1014.6C773.3 1013.8 775.5 1011.5 777.6 1008.9C779.7 1006.3 782 1001.6 783.9 999.3C785.8 996.9 787.3 994 789 994.8C790.7 995.5 792.4 1000.5 794.1 1003.8C795.8 1007.1 797.5 1010.8 799.2 1014.6C800.9 1018.4 802.4 1023.7 804.3 1026.7C806.2 1029.7 808.6 1031.6 810.7 1032.4C812.8 1033.2 814 1033.3 817.1 1031.8C820.2 1030.3 825.5 1026.7 829.1 1023.4C832.7 1020.1 835.5 1015.3 838.7 1011.9C841.9 1008.5 845.1 1004.8 848.3 1002.8C851.5 1000.8 854.6 1000.4 857.8 999.9C861 999.4 864.2 1001.2 867.4 999.9C870.6 998.5 874.5 995.2 877 991.8C879.5 988.4 880.8 984.2 882.7 979.4C884.6 974.6 886.5 969.5 888.4 963.1C890.3 956.7 892.3 949.1 894.2 941.1C896.1 933.1 898 924.4 899.9 915.3C901.8 906.2 903.6 895.7 905.7 886.6C907.8 877.5 910.6 868.5 912.5 860.8C914.4 853.1 915.2 846.2 916.8 840.5C918.4 834.8 920.5 830.6 922.1 826.8C923.7 823 925.1 819.7 926.5 817.5C927.9 815.3 929.1 813.7 930.4 813.5C931.7 813.3 932.9 814.3 934.5 816.5C936.1 818.7 938.3 822.1 940 826.8C941.7 831.5 943.2 837.9 944.9 844.6C946.6 851.3 948.2 857.9 950.3 867C952.4 876.1 955.2 889.3 957.3 899.1C959.4 908.9 961.2 916.9 963.1 925.8C965 934.7 966.9 943.7 968.8 952.6C970.7 961.5 972.6 971.1 974.5 979.4C976.4 987.7 978.4 995.9 980.3 1002.4C982.2 1008.9 984.1 1013.7 986 1018.6C987.9 1023.5 989.9 1028 991.8 1032C993.7 1036 995.6 1039.5 997.5 1042.5C999.4 1045.5 1001.3 1048 1003.2 1050.2C1005.1 1052.4 1006.8 1054 1009 1055.5C1011.2 1057 1014.3 1058.5 1016.6 1059.1C1018.9 1059.7 1020.9 1059.3 1023 1059.2C1025.1 1059.1 1027.2 1059.1 1029.3 1058.4C1031.4 1057.8 1033.8 1057.1 1035.7 1055.3C1037.6 1053.5 1039.1 1050.5 1040.8 1047.6C1042.5 1044.7 1044.2 1041.3 1045.9 1038C1047.6 1034.7 1049.3 1030.4 1051 1027.8C1052.7 1025.2 1054.4 1022.1 1056.1 1022.3C1057.8 1022.5 1059.7 1025.5 1061.2 1029.1C1062.7 1032.7 1063.8 1038.6 1065.1 1043.8C1066.4 1049 1067.6 1055.4 1068.9 1060.4C1070.2 1065.4 1071.4 1069.5 1072.7 1073.8C1074 1078 1075 1082.7 1076.5 1085.9C1078 1089.1 1079.7 1091.2 1081.6 1092.9C1083.5 1094.6 1085.9 1096 1088 1096.1C1090.1 1096.2 1092.3 1094.5 1094.4 1093.5C1096.5 1092.5 1098.9 1089.7 1100.8 1090C1102.7 1090.3 1104.2 1092.9 1105.9 1095.4C1107.6 1097.9 1109.3 1101.7 1111 1105C1112.7 1108.3 1114.4 1112.2 1116.1 1115.2C1117.8 1118.2 1119.3 1121.2 1121.2 1122.9C1123.1 1124.7 1125.5 1125.4 1127.6 1125.7C1129.7 1126 1131.8 1124.5 1133.9 1124.8C1136 1125.1 1138.2 1126.6 1140.3 1127.3C1142.4 1128 1144.6 1129.3 1146.7 1128.9C1148.8 1128.5 1151.2 1127.2 1153.1 1124.8C1155 1122.4 1156.7 1118.5 1158.2 1114.6C1159.7 1110.7 1160.7 1106.4 1162 1101.2C1163.3 1096 1164.5 1089.9 1165.8 1083.3C1167.1 1076.7 1168.3 1067 1169.6 1061.5C1170.9 1056 1172.2 1051.3 1173.5 1050.5C1174.8 1049.7 1176 1052.5 1177.3 1056.5C1178.6 1060.5 1179.8 1067.8 1181.1 1074.4C1182.4 1081 1183.6 1089.7 1184.9 1096.1C1186.2 1102.5 1187.3 1108.6 1188.8 1112.7C1190.3 1116.8 1192 1119.1 1193.9 1120.9C1195.8 1122.7 1198.4 1122.3 1200.3 1123.5C1202.2 1124.7 1203.7 1125.8 1205.4 1128C1207.1 1130.2 1208.6 1134 1210.5 1136.9C1212.4 1139.8 1214.7 1143.6 1216.8 1145.2C1218.9 1146.8 1221.1 1146.8 1223.2 1146.5C1225.3 1146.2 1227.5 1143.8 1229.6 1143.5C1231.7 1143.2 1233.9 1143.2 1236 1144.5C1238.1 1145.8 1240 1149.4 1242.3 1151.6C1244.6 1153.8 1247.7 1157.6 1250 1157.9C1252.3 1158.2 1254.5 1155.7 1256.4 1153.5C1258.3 1151.3 1259.8 1148.1 1261.5 1144.5C1263.2 1140.9 1264.7 1135.8 1266.6 1131.8C1268.5 1127.8 1270.9 1123.5 1273 1120.3C1275.1 1117.1 1277.2 1115.9 1279.3 1112.7C1281.4 1109.5 1283.8 1105.2 1285.7 1101.2C1287.6 1097.2 1288.9 1091.9 1290.8 1088.4C1292.7 1085 1295.4 1080.2 1297 1080.5C1298.6 1080.8 1299 1085.4 1300.2 1090C1301.4 1094.6 1302.7 1101.1 1304 1108.2C1305.3 1115.3 1306.6 1124.5 1307.9 1132.5C1309.2 1140.5 1310.4 1149.7 1311.7 1156.1C1313 1162.5 1314 1166.8 1315.5 1170.7C1317 1174.6 1318.9 1178.2 1320.6 1179.7C1322.3 1181.2 1323.8 1180.8 1325.7 1179.9C1327.6 1179.1 1330 1176.8 1332.1 1174.6C1334.2 1172.4 1336.8 1168.9 1338.5 1166.9C1340.2 1164.9 1341 1162.6 1342.3 1162.4C1343.6 1162.2 1344.6 1163.6 1346.1 1165.6C1347.6 1167.6 1349.5 1171.5 1351.2 1174.6C1352.9 1177.7 1354.6 1181.4 1356.3 1184.1C1358 1186.8 1359.7 1188.8 1361.4 1190.5C1363.1 1192.2 1364.8 1194.2 1366.5 1194.3C1368.2 1194.4 1369.7 1192.7 1371.6 1191.1C1373.5 1189.5 1375.9 1186.8 1378 1184.8C1380.1 1182.8 1382.3 1181 1384.4 1179C1386.5 1177 1388.7 1174.1 1390.8 1172.7C1392.9 1171.3 1395 1171.1 1397.1 1170.7C1399.2 1170.3 1401.4 1170.7 1403.5 1170.1C1405.6 1169.5 1407.8 1169.2 1409.9 1166.9C1412 1164.6 1414.2 1159.2 1416.3 1156.1C1418.4 1153 1420.8 1148.4 1422.7 1148.4C1424.6 1148.4 1426.3 1153 1427.8 1156.1C1429.3 1159.2 1430.1 1163.5 1431.6 1166.9C1433.1 1170.3 1434.8 1174.2 1436.7 1176.5C1438.6 1178.8 1441 1180.7 1443.1 1180.6C1445.2 1180.5 1447.3 1176.9 1449.4 1175.8C1451.5 1174.7 1453.9 1173 1455.8 1173.9C1457.7 1174.8 1459.2 1178.2 1460.9 1181C1462.6 1183.8 1464.3 1187.5 1466 1190.5C1467.7 1193.5 1469.2 1196.8 1471.1 1198.8C1473 1200.8 1475.4 1202.3 1477.5 1202.6C1479.6 1202.9 1481.8 1201.9 1483.9 1200.7C1486 1199.5 1488.4 1197.5 1490.3 1195.6C1492.2 1193.7 1493.7 1192.6 1495.4 1189.2C1497.1 1185.8 1499 1179.3 1500.5 1175.2C1502 1171.1 1503 1169.6 1504.3 1164.4C1505.6 1159.2 1506.8 1150.4 1508.1 1144C1509.4 1137.6 1510.6 1131 1511.9 1126C1513.2 1121 1514.5 1116 1515.8 1114.3C1517.1 1112.5 1518.3 1112.5 1519.6 1115.5C1520.9 1118.5 1522.1 1124.9 1523.4 1132C1524.7 1139.1 1525.9 1148.9 1527.2 1158C1528.5 1167.1 1529.8 1178.7 1531.1 1186.7C1532.4 1194.7 1533.4 1201.1 1534.9 1205.8C1536.4 1210.5 1538.1 1212.6 1540 1214.7C1541.9 1216.8 1544.3 1218.3 1546.4 1218.6C1548.5 1218.9 1550.7 1217.7 1552.8 1216.7C1554.9 1215.7 1557 1214.2 1559.1 1212.8C1561.2 1211.4 1563.4 1210.4 1565.5 1208.4C1567.6 1206.4 1569.8 1203.1 1571.9 1200.7C1574 1198.3 1576.2 1196.2 1578.3 1194.3C1580.4 1192.4 1582.2 1189.7 1584.6 1189.5C1587 1189.3 1590.4 1191.4 1592.8 1193.1C1595.2 1194.8 1597 1197.6 1599.1 1199.4C1601.2 1201.2 1603.4 1203.7 1605.5 1203.9C1607.6 1204.1 1609.8 1203.6 1611.9 1200.7C1614 1197.8 1616.4 1191.8 1618.3 1186.7C1620.2 1181.6 1621.7 1175.2 1623.4 1170.1C1625.1 1165 1626.8 1160.2 1628.5 1156.1C1630.2 1151.9 1631.9 1148 1633.6 1145.2C1635.3 1142.4 1637 1139.6 1638.7 1139.4C1640.4 1139.2 1642.1 1141.9 1643.8 1144C1645.5 1146.1 1647.2 1149.2 1648.9 1152.2C1650.6 1155.2 1652.3 1158.6 1654 1161.8C1655.7 1165 1657.4 1168 1659.1 1171.4C1660.8 1174.8 1662.5 1178.7 1664.2 1182.2C1665.9 1185.7 1667.2 1189.4 1669.3 1192.4C1671.4 1195.4 1674.4 1198.6 1676.9 1200.1C1679.5 1201.6 1682 1200.9 1684.6 1201.4C1687.1 1201.9 1689.7 1202.1 1692.2 1203.3C1694.8 1204.5 1697.6 1207.3 1699.9 1208.4C1702.2 1209.5 1704.2 1210.2 1706.3 1209.9C1708.4 1209.6 1710.4 1208.1 1712.7 1206.5C1715 1204.9 1717.8 1202.4 1720.3 1200.1C1722.8 1197.8 1725.5 1195.4 1728 1192.4C1730.5 1189.4 1733.3 1185.9 1735.6 1182.2C1737.9 1178.5 1740.1 1173 1742 1170.1C1743.9 1167.2 1745.4 1164.5 1747.1 1165C1748.8 1165.5 1750.5 1170.1 1752.2 1173.3C1753.9 1176.5 1755.6 1180.7 1757.3 1184.1C1759 1187.5 1760.7 1190.5 1762.4 1193.7C1764.1 1196.9 1765.6 1201.2 1767.5 1203.3C1769.4 1205.4 1771.8 1206.5 1773.9 1206.5C1776 1206.5 1778.2 1205.1 1780.3 1203.3C1782.4 1201.5 1784.5 1198.3 1786.6 1195.6C1788.7 1192.9 1790.9 1189.5 1793 1187.3C1795.1 1185.1 1797.3 1182.8 1799.4 1182.2C1801.5 1181.6 1803.7 1182.5 1805.8 1183.8C1807.9 1185.1 1810 1188.8 1812.1 1189.9C1814.2 1191 1816.4 1191.5 1818.5 1190.5C1820.6 1189.5 1823 1187.6 1824.9 1184.1C1826.8 1180.6 1828.3 1174.8 1830 1169.5C1831.7 1164.2 1833.4 1158.7 1835.1 1152.2C1836.8 1145.7 1838.5 1137 1840.2 1130.6C1841.9 1124.2 1843.6 1118.4 1845.3 1114C1847 1109.6 1849.1 1106.2 1850.4 1104.4C1851.7 1102.6 1852 1102.2 1853 1103C1854 1103.8 1855.2 1107 1856.5 1109.5C1857.8 1112 1859.1 1115 1860.6 1117.8C1862.1 1120.6 1864.1 1124.6 1865.7 1126.4C1867.3 1128.2 1868.5 1129.2 1870.2 1128.5C1871.9 1127.8 1874.3 1124.7 1875.9 1122.3C1877.5 1119.9 1878 1117.9 1879.6 1114.2C1881.2 1110.5 1884 1104.9 1885.6 1100.2C1887.2 1095.5 1887.9 1090.8 1889.1 1086.1C1890.3 1081.4 1891.5 1076.8 1892.6 1072.1C1893.6 1067.4 1894.5 1062.8 1895.4 1058.1C1896.3 1053.4 1897.1 1048.7 1897.9 1044C1898.7 1039.3 1898.9 1037.4 1900 1030C1901.1 1022.6 1903.1 1011.1 1904.4 999.6C1905.7 988.1 1906.6 974 1907.7 961.3C1908.8 948.5 1910 935.9 1911.1 923.1C1912.1 910.4 1912.9 897.3 1914 884.8C1915.1 872.3 1916.7 857.6 1917.8 848C1918.9 838.4 1919.6 834.1 1920.6 827.2C1921.5 820.3 1922.5 812.6 1923.5 806.4C1924.5 800.2 1925.5 793.8 1926.3 790C1927.1 786.2 1927.6 785.1 1928.5 783.5C1929.4 781.9 1930.5 780.5 1931.5 780.5C1932.5 780.5 1933.5 781.9 1934.5 783.5C1935.5 785.1 1936.3 786.2 1937.3 790C1938.3 793.8 1939.5 800.2 1940.5 806.4C1941.5 812.6 1942.5 820.3 1943.5 827.2C1944.5 834.1 1945.3 838.4 1946.5 848C1947.7 857.6 1949.1 872.3 1950.4 884.8C1951.8 897.3 1953.2 910.4 1954.6 923.1C1956 935.9 1957.4 948.5 1959 961.3C1960.6 974 1961.9 986.7 1964.1 999.6C1966.3 1012.5 1969.3 1027.3 1972.4 1038.5C1975.5 1049.7 1979.9 1058.2 1982.6 1067C1985.3 1075.8 1986.9 1082.8 1988.7 1091C1990.5 1099.2 1992 1108 1993.6 1116.5C1995.1 1125 1996.6 1135.6 1998 1142C1999.4 1148.4 2000.5 1151.3 2001.9 1154.8C2003.3 1158.3 2004.7 1160.5 2006.3 1163.1C2007.9 1165.6 2009.7 1168.3 2011.4 1170.1C2013.1 1171.9 2014.4 1172.4 2016.5 1173.9C2018.6 1175.4 2021.7 1177.6 2024.2 1179.3C2026.8 1181 2029.2 1181.9 2031.8 1184.1C2034.3 1186.3 2037.2 1189.4 2039.5 1192.4C2041.8 1195.4 2043.8 1199.5 2045.9 1202C2048 1204.5 2050.1 1206.3 2052.2 1207.1C2054.3 1207.9 2056.5 1207.4 2058.6 1206.7C2060.7 1206 2062.7 1204 2065 1202.9C2067.3 1201.8 2070.1 1200.3 2072.7 1200.3C2075.2 1200.2 2078 1201.9 2080.3 1202.6C2082.6 1203.3 2084.6 1204.7 2086.7 1204.5C2088.8 1204.3 2091.2 1203.3 2093.1 1201.4C2095 1199.5 2096.1 1195.7 2098.2 1193.1C2100.3 1190.5 2103.7 1186.1 2105.8 1185.7C2107.9 1185.3 2109.2 1188.3 2110.9 1190.5C2112.6 1192.7 2114.3 1195.9 2116 1198.8C2117.7 1201.7 2119.4 1205.2 2121.1 1207.7C2122.8 1210.2 2124.5 1211.7 2126.2 1213.5C2127.9 1215.3 2129.2 1217.1 2131.3 1218.6C2133.4 1220.1 2136.4 1221.9 2139 1222.7C2141.6 1223.5 2144 1223.2 2146.6 1223.3C2149.2 1223.3 2151.8 1222.9 2154.3 1223C2156.9 1223.1 2159.4 1223 2161.9 1223.7C2164.4 1224.4 2167.1 1226.6 2169.6 1226.9C2172.1 1227.2 2174.6 1226.5 2177.2 1225.8C2179.8 1225 2182.3 1223.7 2184.9 1222.4C2187.5 1221.1 2190.3 1219.2 2192.6 1218.2C2194.9 1217.2 2196.8 1216.6 2198.9 1216.7C2201 1216.8 2203.2 1217.8 2205.3 1218.6C2207.4 1219.4 2210.1 1221 2211.7 1221.6C2213.3 1222.2 2213.8 1222.3 2215 1222.2C2216.2 1222.1 2217.4 1221.7 2218.8 1220.7C2220.2 1219.7 2221.8 1218.1 2223.4 1216.4C2225 1214.7 2227.2 1212.2 2228.5 1210.5C2229.8 1208.8 2230.1 1208.1 2231.5 1206.2C2232.9 1204.3 2236.1 1200.2 2237 1199"/>
</g>
<g stroke="#000" stroke-dasharray="6 17.25" fill="none" shape-rendering="crispEdges">
<line x1="662" y1="242" x2="662" y2="1248" stroke-width="4"/>
<line x1="926.5" y1="248" x2="926.5" y2="1208" stroke-width="5"/>
<line x1="1297" y1="331" x2="1297" y2="1221.5" stroke-width="4"/>
<line x1="1635" y1="313" x2="1635" y2="1226" stroke-width="4"/>
<line x1="1858" y1="301" x2="1858" y2="1214.5" stroke-width="4"/>
<line x1="1928" y1="321" x2="1928" y2="1211" stroke-width="4"/>
</g>
<text x="237.50" y="1402.00" font-size="85" style="font-family:'Liberation Serif','Times New Roman',serif;font-kerning:none" textLength="168.30" lengthAdjust="spacing" text-anchor="middle">1700</text>
<text x="902.50" y="1402.00" font-size="85" style="font-family:'Liberation Serif','Times New Roman',serif;font-kerning:none" textLength="168.30" lengthAdjust="spacing" text-anchor="middle">1600</text>
<text x="1567.50" y="1402.00" font-size="85" style="font-family:'Liberation Serif','Times New Roman',serif;font-kerning:none" textLength="168.30" lengthAdjust="spacing" text-anchor="middle">1500</text>
<text x="2232.50" y="1402.00" font-size="85" style="font-family:'Liberation Serif','Times New Roman',serif;font-kerning:none" textLength="168.30" lengthAdjust="spacing" text-anchor="middle">1400</text>
<text x="864.80" y="1528.00" font-size="85" style="font-family:'Liberation Serif','Times New Roman',serif;font-kerning:none" textLength="446.30" lengthAdjust="spacingAndGlyphs">Wavenumber</text>
<text x="1332.63" y="1533.40" font-size="88" style="font-family:'Liberation Serif','Times New Roman',serif;font-kerning:none" textLength="26.32" lengthAdjust="spacingAndGlyphs">[</text>
<text x="1359.06" y="1528.00" font-size="85" style="font-family:'Liberation Serif','Times New Roman',serif;font-kerning:none" textLength="101.80" lengthAdjust="spacingAndGlyphs">cm</text>
<text x="1461.00" y="1494.00" font-size="57" style="font-family:'Liberation Serif','Times New Roman',serif;font-kerning:none" textLength="43.20" lengthAdjust="spacingAndGlyphs">-1</text>
<text x="1507.17" y="1533.40" font-size="88" style="font-family:'Liberation Serif','Times New Roman',serif;font-kerning:none" textLength="27.67" lengthAdjust="spacingAndGlyphs">]</text>
<text transform="translate(122.50 948.50) rotate(-90)" font-size="85" style="font-family:'Liberation Serif','Times New Roman',serif;font-kerning:none" textLength="397.90" lengthAdjust="spacingAndGlyphs">Absorbance</text>
<text transform="translate(126.00 530.40) rotate(-90)" font-size="88" style="font-family:'Liberation Serif','Times New Roman',serif;font-kerning:none" textLength="26.90" lengthAdjust="spacingAndGlyphs">[</text>
<text transform="translate(122.50 504.20) rotate(-90)" font-size="85" style="font-family:'Liberation Serif','Times New Roman',serif;font-kerning:none" textLength="119.90" lengthAdjust="spacingAndGlyphs">a.u.</text>
<text transform="translate(126.00 383.90) rotate(-90)" font-size="88" style="font-family:'Liberation Serif','Times New Roman',serif;font-kerning:none" textLength="26.30" lengthAdjust="spacingAndGlyphs">]</text>
<text x="261.30" y="310.50" font-size="70" style="font-family:'Liberation Serif','Times New Roman',serif;font-kerning:none" textLength="262.90" lengthAdjust="spacingAndGlyphs" fill="#005a5a">14Al-P-S</text>
<text x="252.30" y="678.50" font-size="70" style="font-family:'Liberation Serif','Times New Roman',serif;font-kerning:none" fill="#0066b0">14ZrO</text>
<text x="437.30" y="698.50" font-size="49" style="font-family:'Liberation Serif','Times New Roman',serif;font-kerning:none" fill="#0066b0">2</text>
<text x="461.80" y="678.50" font-size="70" style="font-family:'Liberation Serif','Times New Roman',serif;font-kerning:none" fill="#0066b0">-S</text>
<text x="251.90" y="964.50" font-size="70" style="font-family:'Liberation Serif','Times New Roman',serif;font-kerning:none" fill="#ff0000">14ZrOPr-S</text>
<text x="638.90" y="198.50" font-size="56" style="font-family:'Liberation Serif','Times New Roman',serif;font-kerning:none;font-style:italic" textLength="36.40" lengthAdjust="spacingAndGlyphs">B</text>
<text x="923.10" y="218.00" font-size="56" style="font-family:'Liberation Serif','Times New Roman',serif;font-kerning:none;font-style:italic" textLength="30.85" lengthAdjust="spacingAndGlyphs">L</text>
<text x="1283.90" y="280.80" font-size="56" style="font-family:'Liberation Serif','Times New Roman',serif;font-kerning:none;font-style:italic" textLength="36.60" lengthAdjust="spacingAndGlyphs">B</text>
<text x="1597.60" y="276.00" font-size="56" style="font-family:'Liberation Serif','Times New Roman',serif;font-kerning:none;font-style:italic" textLength="32.40" lengthAdjust="spacingAndGlyphs">L</text>
<text x="1630.50" y="278.40" font-size="60" style="font-family:'Liberation Serif','Times New Roman',serif;font-kerning:none" textLength="35.80" lengthAdjust="spacingAndGlyphs">+</text>
<text x="1663.60" y="276.00" font-size="56" style="font-family:'Liberation Serif','Times New Roman',serif;font-kerning:none;font-style:italic" textLength="37.60" lengthAdjust="spacingAndGlyphs">B</text>
<text x="1840.60" y="281.00" font-size="56" style="font-family:'Liberation Serif','Times New Roman',serif;font-kerning:none;font-style:italic" textLength="33.00" lengthAdjust="spacingAndGlyphs">L</text>
<text x="1914.80" y="286.60" font-size="56" style="font-family:'Liberation Serif','Times New Roman',serif;font-kerning:none;font-style:italic" textLength="32.30" lengthAdjust="spacingAndGlyphs">L</text>
</svg>
</body></html>
